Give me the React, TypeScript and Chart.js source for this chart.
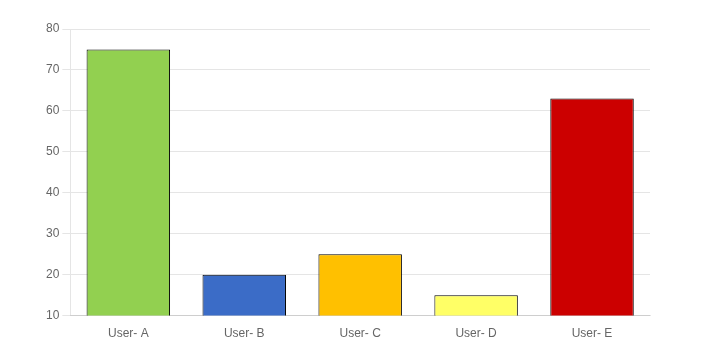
import React, { useEffect, useRef } from "react";
import { Chart, registerables } from "chart.js";

Chart.register(...registerables);

const categories = ["User- A", "User- B", "User- C", "User- D", "User- E"];
const values = [75, 20, 25, 15, 63];
const barColors = ["#92d050", "#3b6cc7", "#ffc000", "#ffff66", "#cc0000"];

export default function App() {
  const ref = useRef<HTMLCanvasElement | null>(null);
  useEffect(() => {
    if (!ref.current) return;
    const chart = new Chart(ref.current, {
      type: "bar",
      data: {
        labels: categories,
        datasets: [
          {
            label: "Users",
            data: values,
            backgroundColor: barColors,
            borderColor: "#000000",
            borderWidth: 1,
          },
        ],
      },
      options: {
        responsive: true,
        maintainAspectRatio: false,
        animation: false,
        layout: { padding: { left: 35, right: 69, top: 21, bottom: 7 } },
        plugins: { legend: { display: false }, tooltip: { enabled: false } },
        scales: {
          x: {
            grid: { display: false },
            ticks: { color: "#666", font: { family: "Liberation Sans, Arial", size: 12 } },
          },
          y: {
            min: 10,
            max: 80,
            ticks: { stepSize: 10, color: "#666", font: { family: "Liberation Sans, Arial", size: 12 } },
            grid: { color: "rgba(0,0,0,0.1)" },
          },
        },
      },
    });
    return () => chart.destroy();
  }, []);
  return (
    <div style={{ width: 711, height: 343, position: "relative" }}>
      <canvas ref={ref} />
    </div>
  );
}
